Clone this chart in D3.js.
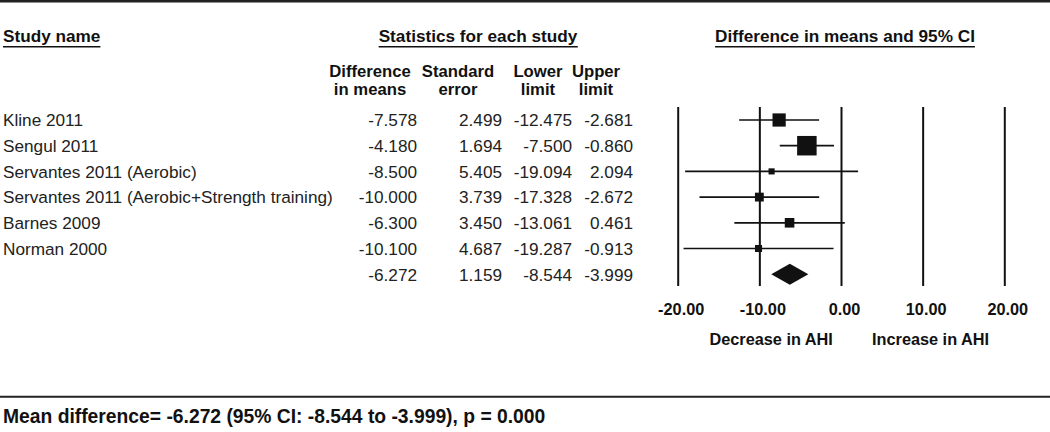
<!DOCTYPE html>
<html>
<head>
<meta charset="utf-8">
<style>
    body { margin: 0; background: #fff; }
    svg { display: block; font-family: "Liberation Sans", Arial, sans-serif; }
    .x .domain { display: none; }
    .x .tick line { stroke: #111; stroke-width: 2px; }
    .x .tick text { font-size: 16.3px; font-weight: bold; fill: #111; }
</style>
</head>
<body>
<svg width="1050" height="432"></svg>

<script src="https://d3js.org/d3.v7.min.js"></script>
<script>
    // last row is the pooled estimate (no study name)
    let studyNames = ["Kline 2011", "Sengul 2011", "Servantes 2011 (Aerobic)",
        "Servantes 2011 (Aerobic+Strength training)", "Barnes 2009", "Norman 2000", ""];
    let diffMeans = [-7.578, -4.180, -8.500, -10.000, -6.300, -10.100, -6.272];
    let stdErrors = [2.499, 1.694, 5.405, 3.739, 3.450, 4.687, 1.159];
    let lowerLimits = [-12.475, -7.500, -19.094, -17.328, -13.061, -19.287, -8.544];
    let upperLimits = [-2.681, -0.860, 2.094, -2.672, 0.461, -0.913, -3.999];
    let xTicks = [-20, -10, 0, 10, 20];
    let pValue = "0.000";

    let width = 1050;
    let height = 432;
    let svg = d3.select("svg");

    let rows = studyNames.map((name, i) => ({
        i: i, name: name, diff: diffMeans[i], se: stdErrors[i],
        lo: lowerLimits[i], hi: upperLimits[i], pooled: i === studyNames.length - 1
    }));

    let x = d3.scaleLinear().domain([-20, 20]).range([677.7, 1004.3]);
    let y = d3.scalePoint().domain(rows.map(d => d.i)).range([120, 274.2]);

    // square size from study weight (1/se^2)
    let studies = rows.filter(d => !d.pooled);
    let size = d3.scaleSqrt()
        .domain([0, d3.max(studies, d => 1 / (d.se * d.se))])
        .range([0, 19.5]);

    // rules top and bottom
    svg.append("line").attr("x1", 0).attr("x2", width).attr("y1", 1.2).attr("y2", 1.2)
        .attr("stroke", "#222").attr("stroke-width", 2.5);
    svg.append("line").attr("x1", 0).attr("x2", width).attr("y1", 396.7).attr("y2", 396.7)
        .attr("stroke", "#222").attr("stroke-width", 2);

    // headings with underlines
    let headings = [
        { text: "Study name", x: 3, anchor: "start" },
        { text: "Statistics for each study", x: 478, anchor: "middle" },
        { text: "Difference in means and 95% CI", x: 845, anchor: "middle" }
    ];
    headings.forEach(h => {
        let t = svg.append("text")
            .attr("x", h.x).attr("y", 42)
            .attr("text-anchor", h.anchor)
            .attr("font-size", 17.2).attr("font-weight", "bold").attr("fill", "#111")
            .text(h.text);
        let b = t.node().getBBox();
        svg.append("line").attr("x1", b.x).attr("x2", b.x + b.width)
            .attr("y1", 46.8).attr("y2", 46.8)
            .attr("stroke", "#111").attr("stroke-width", 1.5);
    });

    // column headers
    let colHeads = [["Difference", "in means"], ["Standard", "error"], ["Lower", "limit"], ["Upper", "limit"]];
    let colHeadX = [370, 458, 538, 596];
    let colRight = [417, 502, 572, 633];
    colHeads.forEach((lines, c) => {
        lines.forEach((s, k) => {
            svg.append("text")
                .attr("x", colHeadX[c]).attr("y", 77 + k * 18)
                .attr("text-anchor", "middle")
                .attr("font-size", 16.7).attr("font-weight", "bold").attr("fill", "#111")
                .text(s);
        });
    });

    // table rows
    let rowG = svg.append("g").selectAll("g")
        .data(rows)
        .join("g")
        .attr("transform", d => `translate(0,${y(d.i) + 6.3})`)
        .attr("font-size", 17.2).attr("fill", "#222");

    rowG.append("text").attr("x", 3).text(d => d.name);
    [d => d.diff, d => d.se, d => d.lo, d => d.hi].forEach((f, c) => {
        rowG.append("text")
            .attr("x", colRight[c])
            .attr("text-anchor", "end")
            .text(d => f(d).toFixed(3));
    });

    // axis with full-height tick lines
    let xAxisSettings = d3.axisBottom(x)
        .tickValues(xTicks)
        .tickSize(-179)
        .tickPadding(17.5)
        .tickFormat(d => d.toFixed(2));

    svg.append("g")
        .attr("class", "x axis")
        .attr("transform", "translate(0,286)")
        .call(xAxisSettings)
        .selectAll("text").attr("dx", 3);

    // confidence intervals and squares
    let plot = svg.append("g");
    plot.selectAll("line.ci")
        .data(studies)
        .join("line")
        .attr("class", "ci")
        .attr("x1", d => x(d.lo)).attr("x2", d => x(d.hi))
        .attr("y1", d => y(d.i)).attr("y2", d => y(d.i))
        .attr("stroke", "#111").attr("stroke-width", 1.7);

    plot.selectAll("rect")
        .data(studies)
        .join("rect")
        .attr("x", d => x(d.diff) - size(1 / (d.se * d.se)) / 2)
        .attr("y", d => y(d.i) - size(1 / (d.se * d.se)) / 2)
        .attr("width", d => size(1 / (d.se * d.se)))
        .attr("height", d => size(1 / (d.se * d.se)))
        .attr("fill", "#111");

    // pooled diamond
    let pooled = rows.filter(d => d.pooled);
    plot.selectAll("path.diamond")
        .data(pooled)
        .join("path")
        .attr("class", "diamond")
        .attr("d", d => {
            let cy = y(d.i);
            return `M${x(d.lo)},${cy} L${x(d.diff)},${cy - 10.5} L${x(d.hi)},${cy} L${x(d.diff)},${cy + 10.5} Z`;
        })
        .attr("fill", "#111");

    // direction labels
    svg.append("text")
        .attr("x", x(-1)).attr("y", 345)
        .attr("text-anchor", "end")
        .attr("font-size", 16.3).attr("font-weight", "bold").attr("fill", "#111")
        .text("Decrease in AHI");
    svg.append("text")
        .attr("x", x(3.8)).attr("y", 345)
        .attr("text-anchor", "start")
        .attr("font-size", 16.3).attr("font-weight", "bold").attr("fill", "#111")
        .text("Increase in AHI");

    // footer
    let p = pooled[0];
    svg.append("text")
        .attr("x", 3).attr("y", 423)
        .attr("font-size", 19.3).attr("font-weight", "bold").attr("fill", "#111")
        .text(`Mean difference= ${p.diff.toFixed(3)} (95% CI: ${p.lo.toFixed(3)} to ${p.hi.toFixed(3)}), p = ${pValue}`);
</script>
</body>
</html>
